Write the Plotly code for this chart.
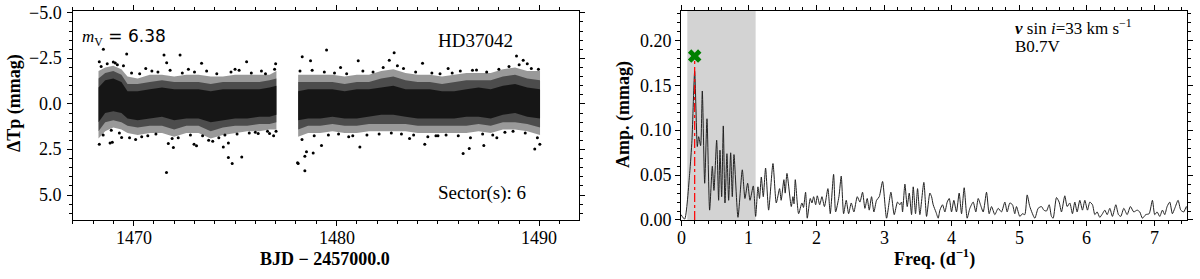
import plotly.graph_objects as go

# ---------------- Light curve (left panel) ----------------
seg1_t = [1468.27, 1468.6, 1469.0, 1469.4, 1469.7, 1470.2, 1470.8, 1471.4, 1472.0, 1472.6,
          1473.2, 1473.8, 1474.4, 1475.0, 1475.6, 1476.2, 1476.7, 1477.04]
seg1_core_top = [-0.9, -1.3, -1.4, -1.2, -0.7, -0.7, -0.8, -0.9, -0.8, -0.8,
                 -0.8, -0.7, -0.8, -0.8, -0.8, -0.8, -0.9, -1.0]
seg1_core_bot = [1.0, 0.5, 0.4, 0.5, 0.8, 0.9, 0.8, 0.7, 0.9, 0.8,
                 0.8, 1.0, 0.9, 0.8, 0.8, 0.7, 0.7, 0.6]
seg1_mid_top = [-1.4, -1.7, -1.8, -1.6, -1.1, -1.1, -1.2, -1.3, -1.2, -1.2,
                -1.2, -1.1, -1.2, -1.2, -1.2, -1.2, -1.3, -1.4]
seg1_mid_bot = [1.5, 1.0, 0.9, 1.0, 1.2, 1.3, 1.2, 1.2, 1.4, 1.2,
                1.2, 1.5, 1.3, 1.2, 1.2, 1.1, 1.1, 1.0]
seg1_fringe_top = [-1.8, -2.0, -2.1, -1.9, -1.5, -1.4, -1.6, -1.6, -1.5, -1.6,
                   -1.6, -1.5, -1.5, -1.6, -1.6, -1.6, -1.6, -1.8]
seg1_fringe_bot = [1.9, 1.5, 1.3, 1.4, 1.6, 1.7, 1.6, 1.6, 1.8, 1.6,
                   1.6, 1.9, 1.7, 1.6, 1.5, 1.5, 1.4, 1.4]

seg2_t = [1478.11, 1478.6, 1479.2, 1479.8, 1480.4, 1481.0, 1481.6, 1482.2, 1482.8, 1483.4,
          1484.0, 1484.6, 1485.2, 1485.8, 1486.4, 1487.0, 1487.6, 1488.2, 1488.8, 1489.4, 1490.03]
seg2_core_top = [-0.7, -0.8, -0.8, -0.8, -0.7, -0.8, -0.8, -0.9, -1.0, -0.8,
                 -0.8, -0.8, -0.7, -0.7, -0.8, -0.9, -0.8, -1.0, -1.1, -0.9, -0.8]
seg2_core_bot = [0.9, 0.8, 0.8, 0.7, 0.8, 0.8, 0.7, 0.6, 0.6, 0.7,
                 0.8, 0.8, 0.8, 0.8, 0.7, 0.7, 0.8, 0.6, 0.5, 0.7, 0.8]
seg2_mid_top = [-1.2, -1.2, -1.2, -1.2, -1.1, -1.2, -1.2, -1.4, -1.5, -1.3,
                -1.2, -1.2, -1.1, -1.2, -1.3, -1.3, -1.3, -1.5, -1.6, -1.4, -1.3]
seg2_mid_bot = [1.4, 1.2, 1.2, 1.1, 1.2, 1.2, 1.1, 1.1, 1.1, 1.1,
                1.2, 1.2, 1.2, 1.2, 1.2, 1.1, 1.2, 1.0, 1.0, 1.1, 1.3]
seg2_fringe_top = [-1.6, -1.6, -1.6, -1.6, -1.5, -1.6, -1.6, -1.8, -1.9, -1.7,
                   -1.6, -1.6, -1.5, -1.6, -1.7, -1.7, -1.7, -1.9, -2.0, -1.8, -1.8]
seg2_fringe_bot = [1.8, 1.6, 1.6, 1.5, 1.6, 1.6, 1.5, 1.5, 1.5, 1.5,
                   1.6, 1.6, 1.6, 1.6, 1.6, 1.5, 1.6, 1.4, 1.4, 1.5, 1.7]

# Isolated points outside / at the edge of the dense cloud
out_t = [1468.31, 1468.51, 1469.66, 1471.50, 1472.29, 1471.63, 1475.57, 1473.35, 1468.31, 1468.84,
         1469.41, 1471.62, 1471.71, 1471.96, 1472.98, 1473.10, 1474.67, 1474.86, 1475.33, 1474.42,
         1474.67, 1476.14, 1476.70, 1478.11, 1478.44, 1478.52, 1478.85, 1478.31, 1478.72, 1479.51,
         1481.07, 1482.84, 1482.60, 1484.24, 1486.90, 1488.87, 1489.20, 1489.40, 1478.44, 1479.26,
         1481.15, 1484.35, 1486.24, 1486.54, 1487.26, 1489.77, 1490.02, 1478.08, 1469.0, 1469.2,
         1470.6, 1473.9, 1475.0, 1476.9, 1480.2, 1483.6, 1485.5, 1487.9, 1468.95, 1477.0,
         1468.4, 1468.7, 1469.1, 1469.5, 1469.9, 1470.3, 1470.9, 1471.2, 1471.8, 1472.4,
         1472.7, 1473.0, 1473.6, 1474.1, 1474.8, 1475.2, 1475.8, 1476.3, 1476.5, 1476.95,
         1468.5, 1468.9, 1469.3, 1469.8, 1470.4, 1470.7, 1471.1, 1471.9, 1472.2, 1472.8,
         1473.4, 1473.7, 1474.2, 1474.5, 1475.1, 1475.7, 1476.0, 1476.6, 1477.02, 1470.1,
         1478.2, 1478.8, 1479.4, 1479.9, 1480.5, 1481.3, 1481.8, 1482.3, 1483.0, 1483.3,
         1483.9, 1484.7, 1485.1, 1485.7, 1486.1, 1486.7, 1487.4, 1488.0, 1488.5, 1489.0,
         1489.6, 1489.95, 1478.3, 1478.9, 1479.6, 1480.1, 1480.8, 1481.5, 1482.1, 1482.7,
         1483.2, 1483.8, 1484.5, 1485.0, 1485.4, 1486.0, 1486.6, 1487.2, 1487.7, 1488.3,
         1488.7, 1489.3, 1489.9, 1480.6, 1484.9]
out_m = [-2.31, -3.00, -2.74, -2.68, -2.68, -2.26, -2.31, -2.23, 2.21, 2.14,
         1.84, 3.76, 2.17, 2.39, 2.21, 2.30, 2.94, 3.27, 2.91, 2.36,
         2.14, 1.62, 1.62, 3.27, 3.67, 2.63, 2.69, -2.59, -2.37, -2.96,
         -2.37, -2.81, -2.40, -2.23, -1.86, -2.63, -2.40, -2.20, 2.87, 2.28,
         2.36, 2.21, 2.72, 2.44, 2.28, 2.48, 2.21, 3.23, -2.30, -2.15,
         -1.95, 2.05, -1.90, 1.75, -2.00, 1.90, -1.95, 1.85, 2.10, -2.20,
         -2.05, -2.20, -2.25, -2.10, -1.70, -1.65, -1.80, -1.75, -1.85, -1.70,
         -1.90, -1.75, -1.80, -1.65, -1.75, -1.85, -1.70, -1.80, -1.65, -1.90,
         1.70, 1.45, 1.60, 1.85, 1.80, 1.75, 1.65, 1.90, 1.85, 1.70,
         1.75, 2.00, 1.85, 1.70, 1.65, 1.60, 1.55, 1.50, 1.50, 1.95,
         -1.80, -1.85, -1.75, -1.70, -1.65, -1.80, -1.75, -2.00, -2.10, -1.95,
         -1.75, -1.70, -1.65, -1.70, -1.80, -1.85, -1.75, -1.90, -2.05, -2.15,
         -1.95, -1.90, 1.95, 1.75, 1.70, 1.65, 1.75, 1.70, 1.65, 1.60,
         1.65, 1.70, 1.80, 1.75, 1.70, 1.75, 1.85, 1.65, 1.70, 1.55,
         1.50, 1.60, 1.85, 1.80, 1.75]

# ---------------- Periodogram (right panel) ----------------
freq = [0.0, 0.054, 0.128, 0.162, 0.202, 0.241, 0.261, 0.290, 0.315, 0.350,
        0.384, 0.423, 0.463, 0.487, 0.527, 0.556, 0.576, 0.601, 0.625, 0.650,
        0.679, 0.704, 0.734, 0.758, 0.783, 0.842, 0.906, 0.945, 0.985, 1.020,
        1.068, 1.103, 1.137, 1.160, 1.187, 1.216, 1.250, 1.295, 1.359, 1.408,
        1.457, 1.480, 1.521, 1.540, 1.566, 1.630, 1.654, 1.670, 1.689, 1.738,
        1.787, 1.810, 1.841, 1.866, 1.910, 1.935, 1.960, 1.990, 2.014, 2.050,
        2.083, 2.120, 2.171, 2.206, 2.255, 2.285, 2.334, 2.368, 2.403, 2.442,
        2.477, 2.516, 2.555, 2.605, 2.644, 2.683, 2.718, 2.752, 2.782, 2.816,
        2.851, 2.890, 2.930, 2.979, 3.038, 3.102, 3.151, 3.200, 3.235, 3.259,
        3.274, 3.309, 3.343, 3.373, 3.407, 3.432, 3.466, 3.496, 3.530, 3.589,
        3.629, 3.678, 3.703, 3.727, 3.767, 3.801, 3.826, 3.865, 3.900, 3.934,
        3.964, 3.998, 4.032, 4.071, 4.111, 4.146, 4.185, 4.229, 4.269, 4.318,
        4.357, 4.392, 4.426, 4.466, 4.515, 4.554, 4.589, 4.638, 4.687, 4.736,
        4.786, 4.820, 4.860, 4.899, 4.933, 4.958, 5.007, 5.047, 5.081, 5.116,
        5.155, 5.229, 5.278, 5.327, 5.362, 5.401, 5.441, 5.475, 5.500, 5.549,
        5.588, 5.623, 5.672, 5.707, 5.746, 5.785, 5.820, 5.854, 5.894, 5.933,
        5.968, 6.007, 6.042, 6.081, 6.116, 6.150, 6.189, 6.229, 6.263, 6.298,
        6.337, 6.376, 6.426, 6.465, 6.499, 6.544, 6.593, 6.642, 6.691, 6.741,
        6.780, 6.819, 6.869, 6.918, 6.967, 7.001, 7.036, 7.075, 7.115, 7.149,
        7.184, 7.223, 7.262, 7.297, 7.346, 7.386, 7.430, 7.469, 7.494]
amp = [0.006, 0.001, 0.052, 0.089, 0.166, 0.082, 0.093, 0.083, 0.144, 0.041,
       0.113, 0.011, 0.060, 0.033, 0.089, 0.022, 0.078, 0.026, 0.105, 0.019,
       0.074, 0.022, 0.075, 0.026, 0.073, 0.003, 0.056, 0.024, 0.041, 0.022,
       0.038, 0.004, 0.037, 0.024, 0.048, 0.026, 0.058, 0.011, 0.063, 0.019,
       0.035, 0.022, 0.045, 0.030, 0.052, 0.015, 0.026, 0.018, 0.045, 0.007,
       0.019, 0.014, 0.031, 0.002, 0.024, 0.019, 0.026, 0.017, 0.027, 0.017,
       0.026, 0.015, 0.035, 0.007, 0.051, 0.009, 0.026, 0.049, 0.007, 0.022,
       0.007, 0.019, 0.009, 0.026, 0.020, 0.031, 0.013, 0.024, 0.011, 0.026,
       0.009, 0.022, 0.026, 0.043, 0.002, 0.031, 0.006, 0.020, 0.017, 0.020,
       0.009, 0.040, 0.015, 0.030, 0.006, 0.037, 0.007, 0.035, 0.006, 0.042,
       0.004, 0.030, 0.026, 0.017, 0.009, 0.002, 0.011, 0.017, 0.009, 0.020,
       0.024, 0.009, 0.022, 0.009, 0.030, 0.007, 0.036, 0.002, 0.013, 0.020,
       0.009, 0.024, 0.017, 0.009, 0.031, 0.007, 0.015, 0.006, 0.013, 0.009,
       0.020, 0.009, 0.019, 0.017, 0.007, 0.015, 0.004, 0.007, 0.006, 0.028,
       0.015, 0.002, 0.013, 0.015, 0.011, 0.010, 0.017, 0.004, 0.002, 0.025,
       0.020, 0.009, 0.027, 0.015, 0.019, 0.007, 0.020, 0.009, 0.022, 0.011,
       0.022, 0.011, 0.020, 0.017, 0.006, 0.009, 0.003, 0.007, 0.011, 0.006,
       0.013, 0.004, 0.017, 0.006, 0.004, 0.013, 0.006, 0.015, 0.009, 0.011,
       0.009, 0.002, 0.006, 0.007, 0.022, 0.006, 0.009, 0.004, 0.011, 0.006,
       0.015, 0.020, 0.007, 0.013, 0.022, 0.011, 0.009, 0.015, 0.007]

peak_freq = 0.202
peak_marker_amp = 0.183
shade_range = [0.093, 1.103]

# tick values and labels
lc_xticks = [1470, 1480, 1490]
lc_xlabels = ["1470", "1480", "1490"]
lc_yticks = [-5.0, -2.5, 0.0, 2.5, 5.0]
lc_ylabels = ["−5.0", "−2.5", "0.0", "2.5", "5.0"]
pg_xticks = [0, 1, 2, 3, 4, 5, 6, 7]
pg_xlabels = ["0", "1", "2", "3", "4", "5", "6", "7"]
pg_yticks = [0.0, 0.05, 0.10, 0.15, 0.20]
pg_ylabels = ["0.00", "0.05", "0.10", "0.15", "0.20"]

SERIF = "Liberation Serif"
H = 279.0
W = 1200.0

fig = go.Figure()


def band(t, top, bot, color, xa, ya):
    xs = list(t) + list(reversed(t))
    ys = list(top) + list(reversed(bot))
    return go.Scatter(x=xs, y=ys, fill="toself", mode="lines",
                      line=dict(width=0), fillcolor=color,
                      hoverinfo="skip", showlegend=False, xaxis=xa, yaxis=ya)


for t, top, bot, col in [
    (seg1_t, seg1_fringe_top, seg1_fringe_bot, "rgba(0,0,0,0.4)"),
    (seg2_t, seg2_fringe_top, seg2_fringe_bot, "rgba(0,0,0,0.4)"),
    (seg1_t, seg1_mid_top, seg1_mid_bot, "rgba(0,0,0,0.5)"),
    (seg2_t, seg2_mid_top, seg2_mid_bot, "rgba(0,0,0,0.5)"),
    (seg1_t, seg1_core_top, seg1_core_bot, "rgba(0,0,0,0.7)"),
    (seg2_t, seg2_core_top, seg2_core_bot, "rgba(0,0,0,0.7)"),
]:
    fig.add_trace(band(t, top, bot, col, "x", "y"))

fig.add_trace(go.Scatter(x=out_t, y=out_m, mode="markers",
                         marker=dict(size=3, color="black"), showlegend=False,
                         xaxis="x", yaxis="y"))

# periodogram
fig.add_trace(go.Scatter(x=freq, y=amp, mode="lines",
                         line=dict(color="#222222", width=1, shape="spline", smoothing=0.6),
                         showlegend=False, xaxis="x2", yaxis="y2"))
fig.add_trace(go.Scatter(x=[peak_freq, peak_freq], y=[0, peak_marker_amp], mode="lines",
                         line=dict(color="red", width=1.2, dash="dashdot"),
                         showlegend=False, xaxis="x2", yaxis="y2"))
fig.add_trace(go.Scatter(x=[peak_freq], y=[peak_marker_amp], mode="markers",
                         marker=dict(symbol="x", size=12, color="green"),
                         showlegend=False, xaxis="x2", yaxis="y2"))

fig.add_shape(type="rect", xref="x2", yref="y2 domain", x0=shade_range[0], x1=shade_range[1],
              y0=0, y1=1, fillcolor="lightgray", line=dict(width=0), layer="below")


def axis(**kw):
    d = dict(showline=True, linecolor="black", linewidth=1, mirror="ticks",
             ticks="outside", ticklen=5, tickwidth=1, tickcolor="black",
             showgrid=False, zeroline=False, showticklabels=False)
    d.update(kw)
    return d


fig.update_layout(
    width=1200, height=279,
    margin=dict(l=0, r=0, t=0, b=0),
    paper_bgcolor="white", plot_bgcolor="white",
    font=dict(family=SERIF, size=18, color="black"),
    xaxis=axis(domain=[0.0606, 0.4825], range=[1467.0, 1491.95], anchor="y",
               tickmode="array", tickvals=lc_xticks,
               minor=dict(dtick=1, tick0=1470, ticklen=3, ticks="outside", tickcolor="black")),
    yaxis=axis(domain=[0.2115, 0.9606], range=[6.37, -5.1], anchor="x",
               tickmode="array", tickvals=lc_yticks,
               minor=dict(dtick=0.5, tick0=0, ticklen=3, ticks="outside", tickcolor="black")),
    xaxis2=axis(domain=[0.5675, 0.989], range=[0, 7.475], anchor="y2",
                tickmode="array", tickvals=pg_xticks,
                minor=dict(dtick=0.2, tick0=0, ticklen=3, ticks="outside", tickcolor="black")),
    yaxis2=axis(domain=[0.2115, 0.9606], range=[0, 0.2333], anchor="x2",
                tickmode="array", tickvals=pg_yticks,
                minor=dict(dtick=0.01, tick0=0, ticklen=3, ticks="outside", tickcolor="black")),
)


def ann(text, x, y, size=18, xanchor="left", yanchor="middle", angle=0, family=SERIF,
        xref="paper", yref="paper"):
    fig.add_annotation(text=text, x=x, y=y, xref=xref, yref=yref, align="left",
                       xanchor=xanchor, yanchor=yanchor, showarrow=False, textangle=angle,
                       font=dict(family=family, size=size, color="black"))


# tick labels placed through the axes' own scales
for v, s in zip(lc_xticks, lc_xlabels):
    ann(s, v, 1 - 238 / H, size=18, xanchor="center", xref="x")
for v, s in zip(pg_xticks, pg_xlabels):
    ann(s, v, 1 - 238 / H, size=18, xanchor="center", xref="x2")
for v, s in zip(lc_yticks, lc_ylabels):
    ann(s, 64 / W, v, size=18, xanchor="right", yref="y")
for v, s in zip(pg_yticks, pg_ylabels):
    ann(s, 674 / W, v, size=18, xanchor="right", yref="y2")

ann('<span style="font-family:Liberation Serif"><i>m</i><sub>V</sub></span> = 6.38',
    80 / W, 1 - 37 / H, size=17, family="DejaVu Sans")
ann("HD37042", 436 / W, 1 - 41 / H, size=19)
ann("Sector(s): 6", 436 / W, 1 - 193 / H, size=19)
ann("<b><i>v</i></b> sin <i>i</i>=33 km s<sup>−1</sup>", 1013 / W, 1 - 27 / H, size=17)
ann("B0.7V", 1013 / W, 1 - 46 / H, size=17)

ann("<b>BJD − 2457000.0</b>", 325 / W, 1 - 259 / H, size=18, xanchor="center")
ann("<b>Freq. (d<sup>−1</sup>)</b>", 934 / W, 1 - 258 / H, size=18, xanchor="center")
ann("<b>ΔTp (mmag)</b>", 14 / W, 1 - 103 / H, size=18, xanchor="center", angle=-90)
ann("<b>Amp. (mmag)</b>", 623 / W, 1 - 115 / H, size=18, xanchor="center", angle=-90)

fig.write_html(
    "out.html",
    config={"displayModeBar": False},
    post_script="document.body.style.margin='0';document.body.style.padding='0';"
                "document.body.style.overflow='hidden';",
)
